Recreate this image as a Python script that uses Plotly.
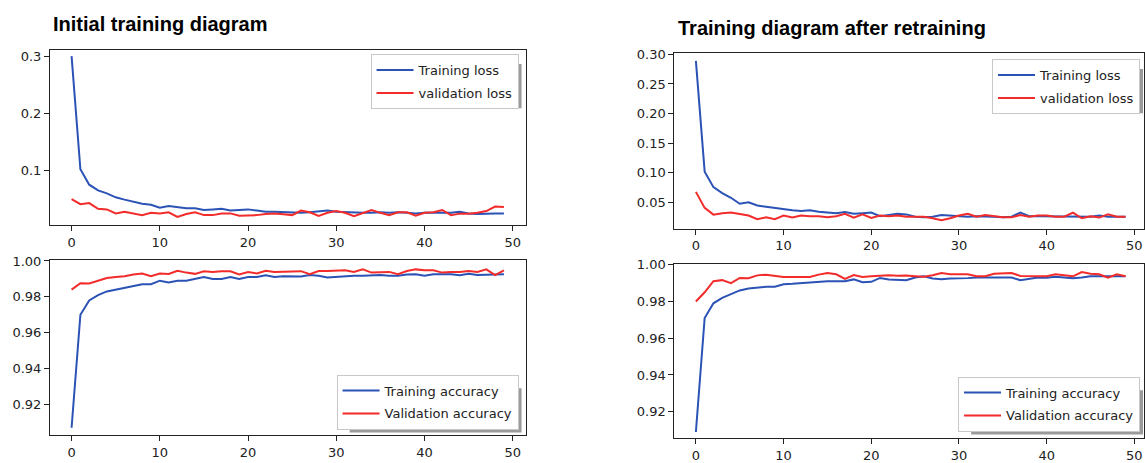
import plotly.graph_objects as go

W, H = 1145, 463

epochs = list(range(50))
x_ticks = [0, 10, 20, 30, 40, 50]

init_train_loss = [
    0.300, 0.103, 0.076, 0.066, 0.061, 0.054, 0.050, 0.046, 0.043, 0.041,
    0.036, 0.039, 0.037, 0.035, 0.035, 0.032, 0.033, 0.034, 0.031, 0.032,
    0.033, 0.031, 0.029, 0.029, 0.028, 0.028, 0.027, 0.028, 0.029, 0.031,
    0.029, 0.028, 0.028, 0.027, 0.027, 0.028, 0.027, 0.028, 0.027, 0.026,
    0.027, 0.027, 0.026, 0.027, 0.029, 0.026, 0.025, 0.026, 0.026, 0.026]
init_val_loss = [
    0.051, 0.042, 0.044, 0.034, 0.033, 0.026, 0.029, 0.026, 0.023, 0.027,
    0.026, 0.028, 0.020, 0.025, 0.028, 0.023, 0.023, 0.026, 0.026, 0.022,
    0.022, 0.023, 0.025, 0.026, 0.0245, 0.023, 0.031, 0.028, 0.0217, 0.027,
    0.030, 0.027, 0.021, 0.026, 0.032, 0.027, 0.023, 0.028, 0.028, 0.022,
    0.027, 0.028, 0.032, 0.023, 0.0256, 0.0256, 0.027, 0.030, 0.038, 0.037]
init_train_acc = [
    0.907, 0.970, 0.978, 0.981, 0.983, 0.984, 0.985, 0.986, 0.987, 0.987,
    0.989, 0.988, 0.989, 0.989, 0.990, 0.991, 0.990, 0.990, 0.991, 0.990,
    0.991, 0.991, 0.992, 0.991, 0.9915, 0.9914, 0.9913, 0.9921, 0.9918, 0.9908,
    0.9911, 0.9917, 0.9917, 0.9917, 0.9919, 0.9921, 0.9917, 0.9917, 0.9924, 0.9926,
    0.9917, 0.9926, 0.9926, 0.9926, 0.9921, 0.9928, 0.9922, 0.9924, 0.9924, 0.9926]
init_val_acc = [
    0.984, 0.9876, 0.9874, 0.989, 0.9905, 0.991, 0.9915, 0.9925, 0.993, 0.9915,
    0.993, 0.9927, 0.9945, 0.9935, 0.9928, 0.9942, 0.9938, 0.9942, 0.9942, 0.9925,
    0.9938, 0.993, 0.9945, 0.9938, 0.9941, 0.9943, 0.9943, 0.9926, 0.9944, 0.9944,
    0.9944, 0.9948, 0.9939, 0.9953, 0.9935, 0.9939, 0.9939, 0.9926, 0.9944, 0.9953,
    0.9948, 0.9948, 0.9935, 0.9939, 0.9939, 0.9944, 0.9939, 0.9953, 0.9921, 0.9948]

re_train_loss = [
    0.289, 0.102, 0.076, 0.066, 0.058, 0.048, 0.0505, 0.045, 0.043, 0.041,
    0.038, 0.037, 0.0356, 0.037, 0.0345, 0.033, 0.032, 0.034, 0.031, 0.032,
    0.033, 0.027, 0.029, 0.031, 0.030, 0.026, 0.025, 0.026, 0.029, 0.028,
    0.027, 0.026, 0.027, 0.027, 0.026, 0.025, 0.026, 0.033, 0.027, 0.027,
    0.027, 0.026, 0.027, 0.027, 0.026, 0.026, 0.028, 0.026, 0.026, 0.026]
re_val_loss = [
    0.068, 0.041, 0.0296, 0.032, 0.033, 0.030, 0.028, 0.022, 0.025, 0.022,
    0.028, 0.0246, 0.028, 0.027, 0.027, 0.025, 0.027, 0.031, 0.0246, 0.030,
    0.024, 0.028, 0.027, 0.028, 0.026, 0.026, 0.026, 0.0235, 0.020, 0.0235,
    0.028, 0.031, 0.026, 0.029, 0.027, 0.025, 0.025, 0.029, 0.026, 0.028,
    0.028, 0.026, 0.026, 0.033, 0.0235, 0.027, 0.0246, 0.030, 0.026, 0.026]
re_train_acc = [
    0.909, 0.971, 0.979, 0.982, 0.984, 0.986, 0.987, 0.9875, 0.988, 0.988,
    0.9894, 0.9896, 0.990, 0.990, 0.9907, 0.991, 0.991, 0.991, 0.992, 0.9905,
    0.9907, 0.9928, 0.992, 0.9916, 0.9916, 0.9930, 0.9937, 0.9925, 0.9921, 0.9925,
    0.9925, 0.9927, 0.9930, 0.9930, 0.9930, 0.9930, 0.9930, 0.9916, 0.9923, 0.9930,
    0.9929, 0.9934, 0.9930, 0.9927, 0.9930, 0.9937, 0.9937, 0.9937, 0.9937, 0.9937]
re_val_acc = [
    0.980, 0.985, 0.991, 0.9916, 0.990, 0.9928, 0.9926, 0.9942, 0.9946, 0.994,
    0.9933, 0.9933, 0.9935, 0.9933, 0.9946, 0.9955, 0.9948, 0.9923, 0.9944, 0.9933,
    0.9937, 0.994, 0.9942, 0.994, 0.9941, 0.9937, 0.9934, 0.9943, 0.9955, 0.9948,
    0.9948, 0.9948, 0.9937, 0.9937, 0.9951, 0.9955, 0.9955, 0.9939, 0.9939, 0.9939,
    0.9937, 0.9948, 0.9943, 0.9937, 0.9960, 0.9951, 0.9948, 0.9930, 0.9948, 0.9937]

titles = ["Initial training diagram", "Training diagram after retraining"]
loss_names = ["Training loss", "validation loss"]
acc_names = ["Training accuracy", "Validation accuracy"]

BLUE = "#2b52b5"
RED = "#f22b2b"
AX = "#222222"
TICKFONT = dict(family="DejaVu Sans", size=13, color="#222222")


def px_x(p):
    return p / W


def px_y(p):
    return 1 - p / H


# axes boxes in pixels: (left, right, top, bottom)
boxes = {
    "1": (50, 526, 44, 222),
    "2": (50, 526, 257.5, 436),
    "3": (675, 1145, 47.3, 225.7),
    "4": (675, 1145, 261.3, 439),
}
y_ranges = {
    "1": [0.0055, 0.3103],
    "2": [0.9027, 1.0005],
    "3": [0.0057, 0.3014],
    "4": [0.9055, 1.0005],
}
x_ranges = {
    "1": [-2.45, 51.45],
    "2": [-2.45, 51.45],
    "3": [-2.45, 51.1],
    "4": [-2.45, 51.1],
}
y_ticks = {
    "1": ([0.1, 0.2, 0.3], ".1f"),
    "2": ([0.92, 0.94, 0.96, 0.98, 1.00], ".2f"),
    "3": ([0.05, 0.10, 0.15, 0.20, 0.25, 0.30], ".2f"),
    "4": ([0.92, 0.94, 0.96, 0.98, 1.00], ".2f"),
}

series = {
    "1": [(init_train_loss, loss_names[0], BLUE), (init_val_loss, loss_names[1], RED)],
    "2": [(init_train_acc, acc_names[0], BLUE), (init_val_acc, acc_names[1], RED)],
    "3": [(re_train_loss, loss_names[0], BLUE), (re_val_loss, loss_names[1], RED)],
    "4": [(re_train_acc, acc_names[0], BLUE), (re_val_acc, acc_names[1], RED)],
}

fig = go.Figure()
layout = {}
legend_names = {"1": "legend", "2": "legend2", "3": "legend3", "4": "legend4"}

for k in ["1", "2", "3", "4"]:
    xa = "x" if k == "1" else "x" + k
    ya = "y" if k == "1" else "y" + k
    for j, (vals, name, col) in enumerate(series[k]):
        fig.add_trace(go.Scatter(
            x=epochs, y=vals, name=name, mode="lines",
            line=dict(color=col, width=2),
            xaxis=xa, yaxis=ya, legend=legend_names[k],
            legendgroup=k + str(j),
        ))
    l, r, t, b = boxes[k]
    xkey = "xaxis" if k == "1" else "xaxis" + k
    ykey = "yaxis" if k == "1" else "yaxis" + k
    layout[xkey] = dict(
        domain=[px_x(l), min(1.0, px_x(r))], range=x_ranges[k], anchor=ya,
        tickvals=x_ticks, showgrid=False, zeroline=False,
        showline=True, mirror=True, linecolor=AX, linewidth=1,
        ticks="outside", ticklen=5, tickcolor=AX, tickwidth=1,
        tickfont=TICKFONT,
    )
    tv, fmt = y_ticks[k]
    layout[ykey] = dict(
        domain=[px_y(b), px_y(t)], range=y_ranges[k], anchor=xa,
        tickvals=tv, tickformat=fmt, showgrid=False, zeroline=False,
        showline=True, mirror=True, linecolor=AX, linewidth=1,
        ticks="outside", ticklen=5, tickcolor=AX, tickwidth=1,
        tickfont=TICKFONT,
    )

LEGFONT = dict(family="DejaVu Sans", size=13, color="#222222")
leg_common = dict(bgcolor="white", bordercolor="#c8c8c8", borderwidth=1,
                  font=LEGFONT, tracegroupgap=3, itemwidth=37)

# legend boxes (pixels): right, top/bottom, anchor, approx width, approx height
leg_geo = {
    "legend": (519, 48, "top", 146, 52),
    "legend2": (519, 430, "bottom", 181, 52),
    "legend3": (1141, 53, "top", 146, 52),
    "legend4": (1141, 432, "bottom", 181, 52),
}
shapes = []
for name, (rx, yy, anc, w, h) in leg_geo.items():
    layout[name] = dict(leg_common, x=px_x(rx), y=px_y(yy), xanchor="right", yanchor=anc)
    top = yy if anc == "top" else yy - h
    # drop shadow, tucked under the legend except on the right and bottom edges
    shapes.append(dict(
        type="rect", xref="paper", yref="paper", layer="above",
        x0=px_x(rx - w + 12), x1=px_x(rx + 3), y0=px_y(top + h + 3), y1=px_y(top + 10),
        fillcolor="#9a9a9a", line=dict(width=0),
    ))

annotations = [
    dict(text="<b>" + titles[0] + "</b>", x=px_x(51), y=px_y(17), xref="paper", yref="paper",
         xanchor="left", yanchor="middle", showarrow=False,
         font=dict(family="Liberation Sans", size=20, color="#000000")),
    dict(text="<b>" + titles[1] + "</b>", x=px_x(677), y=px_y(21.5), xref="paper", yref="paper",
         xanchor="left", yanchor="middle", showarrow=False,
         font=dict(family="Liberation Sans", size=20, color="#000000")),
]

fig.update_layout(
    width=W, height=H, margin=dict(l=0, r=0, t=0, b=0),
    paper_bgcolor="white", plot_bgcolor="white",
    showlegend=True, annotations=annotations, shapes=shapes, **layout,
)

fig.write_html(
    "out.html",
    config={"displayModeBar": False},
    post_script="document.body.style.margin='0px';document.body.style.overflow='hidden';",
)
